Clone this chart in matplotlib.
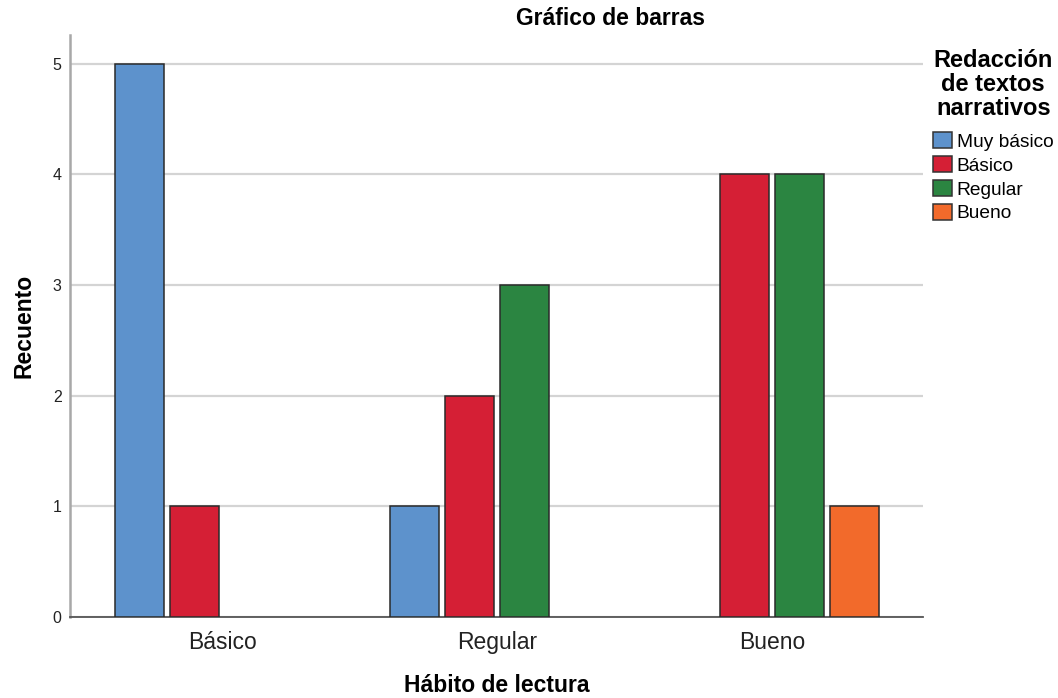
import matplotlib
matplotlib.use("Agg")
import matplotlib.pyplot as plt
import numpy as np

# data
categories = ["Básico", "Regular", "Bueno"]
series_names = ["Muy básico", "Básico", "Regular", "Bueno"]
muy_basico = [5, 1, 0]
basico = [1, 2, 4]
regular = [0, 3, 4]
bueno = [0, 0, 1]
colors = ["#5d92cc", "#d51f35", "#2b8541", "#f26a2b"]

plt.rcParams["font.family"] = ["Liberation Sans", "DejaVu Sans"]

fig = plt.figure(figsize=(10.58, 6.98), dpi=100)
ax = fig.add_axes([70 / 1058, 81 / 698, 853 / 1058, 582 / 698])

x = np.arange(len(categories))
slot = 0.2
width = 0.179
handles = []
for i, (name, vals) in enumerate(zip(series_names, [muy_basico, basico, regular, bueno])):
    vals = np.array(vals, dtype=float)
    pos = x + (i - 1.5) * slot
    keep = vals > 0
    b = ax.bar(pos[keep], vals[keep], width=width, color=colors[i],
               edgecolor="#2a2a2a", linewidth=1.1, label=name, zorder=3)
    handles.append(b)

ax.set_xlim(-0.554, 2.55)
ax.set_ylim(0, 5.26)
ax.set_yticks(range(6))
ax.set_xticks(x)
ax.set_xticklabels(categories)
ax.yaxis.grid(True, color="#d4d4d4", linewidth=1.6, zorder=0)
ax.set_axisbelow(True)

for s in ["top", "right"]:
    ax.spines[s].set_visible(False)
ax.spines["left"].set_color("#a8a8a8")
ax.spines["left"].set_linewidth(1.8)
ax.spines["bottom"].set_color("#555555")
ax.spines["bottom"].set_linewidth(1.3)

ax.tick_params(axis="y", length=0, pad=6, labelsize=11.5, labelcolor="#222222")
ax.tick_params(axis="x", length=0, pad=10, labelsize=16.5, labelcolor="#222222")

ax.set_xlabel("Hábito de lectura", fontsize=16.5, fontweight="bold", va="bottom")
ax.xaxis.set_label_coords(0.5, -0.137)
ax.set_ylabel("Recuento", fontsize=16.5, fontweight="bold")
ax.yaxis.set_label_coords(-0.041, 0.5)

fig.text(611 / 1058, 1 - 25 / 698, "Gráfico de barras", fontsize=16.5,
         fontweight="bold", ha="center", va="baseline")

leg = ax.legend(handles=handles, title="Redacción\nde textos\nnarrativos",
                loc="upper left", bbox_to_anchor=(933 / 1058, 1 - 49 / 698),
                bbox_transform=fig.transFigure, frameon=False, borderpad=0,
                borderaxespad=0, handlelength=0.99, handleheight=0.89,
                handletextpad=0.25, labelspacing=0.28, fontsize=13.8,
                title_fontproperties={"weight": "bold", "size": 17})
leg.get_title().set_multialignment("center")
leg.get_title().set_linespacing(1.05)
leg._legend_box.sep = 9.0  # extra gap between title and entries
for p in leg.get_patches():
    p.set_edgecolor("#333333")

fig.savefig("out.png", dpi=100)
